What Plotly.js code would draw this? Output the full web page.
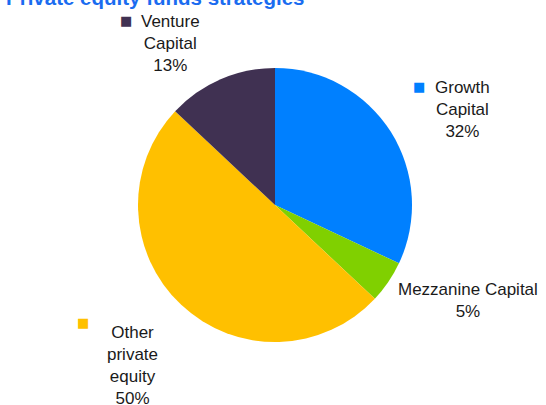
<!DOCTYPE html>
<html>
<head>
<meta charset="utf-8">
<script src="https://cdn.plot.ly/plotly-3.0.1.min.js"></script>
<style>html,body{margin:0;padding:0;background:#fff;}#chart{width:546px;height:405px;}</style>
</head>
<body>
<div id="chart"></div>
<script>
var categories = ["Growth Capital", "Mezzanine Capital", "Other private equity", "Venture Capital"];
var values = [32, 5, 50, 13];
var colors = ["#0080FF", "#80D000", "#FFC000", "#403152"];
var labelLines = [["Growth", "Capital"], ["Mezzanine Capital"], ["Other", "private", "equity"], ["Venture", "Capital"]];
var titleText = "Private equity funds strategies";

var font = "Liberation Sans, Arial, sans-serif";
var labelFont = {family: font, size: 17, color: "#1a1a1a"};

// label placement (paper coords) and legend-key placement
var labelPos = [
  {x: 462/546, y: 1 - 109/405, key: [419/546, 1 - 87/405]},
  {x: 468/546, y: 1 - 300/405, key: null},
  {x: 132/546, y: 1 - 365/405, key: [83/546, 1 - 322/405]},
  {x: 170/546, y: 1 - 43/405, key: [126/546, 1 - 20/405]}
];

var annotations = [];
for (var i = 0; i < categories.length; i++) {
  var txt = labelLines[i].concat([values[i] + "%"]).join("<br>");
  annotations.push({
    text: txt, x: labelPos[i].x, y: labelPos[i].y, xref: "paper", yref: "paper",
    xanchor: "center", yanchor: "middle", showarrow: false, align: "center", font: labelFont
  });
  if (labelPos[i].key) {
    annotations.push({
      text: "■", x: labelPos[i].key[0], y: labelPos[i].key[1], xref: "paper", yref: "paper",
      xanchor: "center", yanchor: "middle", showarrow: false,
      font: {family: "DejaVu Sans", size: 13, color: colors[i]}
    });
  }
}
annotations.push({
  text: "<b>" + titleText + "</b>", x: 4/546, y: 1 + 3/405, xref: "paper", yref: "paper",
  xanchor: "left", yanchor: "middle", showarrow: false,
  font: {family: font, size: 20.5, color: "#1A6CF0"}
});

var data = [{
  type: "pie",
  labels: categories,
  values: values,
  marker: {colors: colors, line: {width: 0}},
  sort: false,
  direction: "clockwise",
  rotation: 0,
  textinfo: "none",
  hoverinfo: "label+percent",
  domain: {x: [(275-137)/546, (275+137)/546], y: [(200-137)/405, (200+137)/405]}
}];

var layout = {
  width: 546, height: 405,
  margin: {l: 0, r: 0, t: 0, b: 0},
  showlegend: false,
  paper_bgcolor: "#ffffff",
  annotations: annotations
};

Plotly.newPlot("chart", data, layout, {displayModeBar: false, staticPlot: true});
</script>
</body>
</html>
